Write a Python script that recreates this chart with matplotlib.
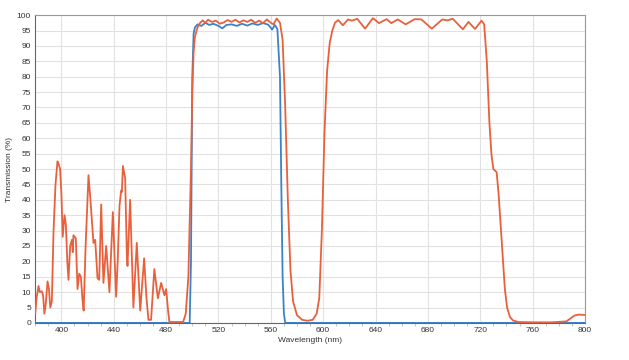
import matplotlib.pyplot as plt
from matplotlib.ticker import MultipleLocator

plt.rcParams["font.family"] = ["Liberation Sans", "DejaVu Sans"]

RED = "#E8603C"
BLUE = "#3C82C8"

# Blue filter curve (wavelength nm, transmission %)
blue_wl = [380, 498, 499, 500, 501, 502, 504, 507, 510, 513, 516, 520, 523, 526,
           530, 534, 538, 542, 546, 550, 554, 558, 561, 563, 565, 567, 568, 569,
           570, 571, 800]
blue_t = [0, 0, 20, 80, 94, 96, 97, 96.5, 97.5, 96.8, 97.2, 96.5, 95.7, 96.8,
          97, 96.5, 97.2, 96.6, 97.3, 96.8, 97.4, 96.9, 95.3, 96.8, 95.5, 80, 45, 15,
          3, 0, 0]

# Red (dual band) filter curve
red_wl = [380, 381, 382.5, 383.5, 385, 386, 387, 388, 389.4, 390.5, 391.5, 392.7,
          394, 395.5, 397, 398, 399, 400, 401, 402.4, 403.4, 404.5, 405.4, 406.7,
          408, 408.7, 409.2, 411, 412.3, 413.6, 414.9, 416, 417, 418.5, 420.7, 422,
          423.5, 424.5, 425.8, 427.6, 428.9, 430.4, 432.1, 434.2, 435.2, 436.7,
          439.3, 441.8, 443, 444.4, 445.6, 446.2, 447, 448.7, 450, 450.5, 452.5,
          455, 457.6, 460.2, 463.2, 465, 466.5, 468.5, 471, 473.7, 476.2, 478.7,
          480, 481.5, 482.5, 493, 495, 497, 499, 500, 501, 502, 504, 506, 508, 510,
          512, 515, 518, 521, 524, 527, 530, 533, 536, 539, 542, 545, 548, 551, 554,
          557, 560, 562, 564.5, 567, 569, 571, 573, 575, 577, 580, 584, 588, 592,
          595, 597, 599, 601, 603, 605, 607, 609, 611.5, 615, 619, 622, 626, 632,
          638, 642.6, 648.5, 652, 657, 663, 670, 675, 683, 691, 695, 699, 706.7,
          711, 716, 721, 723, 725, 727, 728.5, 730, 732.5, 734, 736, 738.8, 740.5,
          742.6, 745, 749, 760, 775, 785.8, 789, 792, 795, 800]
red_t = [3.1, 8, 12, 10, 10.3, 9, 3, 6, 13.5, 11, 5, 7,
         30, 45, 52.5, 51.5, 50, 42, 28, 35, 32, 20, 14, 25,
         27, 23, 28.5, 27.5, 11, 16, 15, 8, 4, 25, 48, 41,
         32, 26, 27, 14.5, 14, 38.5, 13, 25, 19, 10,
         36, 8.5, 20, 38, 43, 42.5, 51, 47, 22, 18.5, 40,
         5, 26, 4, 21, 8, 1, 1, 17.5, 8, 13, 9,
         11, 4, 0.3, 0.3, 3, 15, 50, 75, 88, 93, 96, 97.5, 98.3, 97.5,
         98.5, 97.8, 98.2, 97.2, 97.6, 98.4, 97.8, 98.5, 97.6, 98.3, 97.8, 98.5, 97.5, 98.2, 97.4,
         98.6, 97.5, 97, 98.9, 97.5, 92, 70, 40, 17, 7, 2.5, 1, 0.7, 1,
         3, 8, 30, 62, 82, 91, 95, 97.5, 98.4, 96.7, 98.6, 98.2, 98.8, 95.6,
         99, 97.4, 98.7, 97.4, 98.6, 97, 98.7, 98.6, 95.6, 98.6, 98.3, 98.8, 95.4,
         97.8, 95.5, 98.2, 97, 85, 65, 55, 50, 49, 42, 29, 11, 5,
         2, 0.8, 0.3, 0.2, 0.2, 0.5, 1.5, 2.4, 2.7, 2.6]

x_ticks = [400, 440, 480, 520, 560, 600, 640, 680, 720, 760, 800]

fig = plt.figure(figsize=(6.29, 3.6), dpi=100)
ax = fig.add_axes([0.056, 0.103, 0.874, 0.855])

ax.plot(blue_wl, blue_t, color=BLUE, lw=1.3, zorder=3)
ax.plot(red_wl, red_t, color=RED, lw=1.3, zorder=4)

ax.set_xlim(380, 800)
ax.set_ylim(0, 100)
ax.set_xticks(x_ticks)
ax.xaxis.set_minor_locator(MultipleLocator(10))
ax.set_yticks(range(0, 101, 5))
ax.grid(True, which="major", color="#e2e2e2", lw=0.8)
ax.set_axisbelow(True)

ax.tick_params(axis="both", which="major", labelsize=6, length=0, pad=3,
               labelcolor="#333333")
ax.tick_params(axis="x", which="minor", length=2, color="#bbbbbb")

for side in ["top", "right"]:
    ax.spines[side].set_color("#999999")
    ax.spines[side].set_linewidth(0.8)
ax.spines["left"].set_color("#666666")
ax.spines["bottom"].set_color("#666666")

ax.set_xlabel("Wavelength (nm)", fontsize=6, color="#333333", labelpad=2)
ax.set_ylabel("Transmission (%)", fontsize=6, color="#333333", labelpad=3)

plt.savefig("out.png", dpi=100)
